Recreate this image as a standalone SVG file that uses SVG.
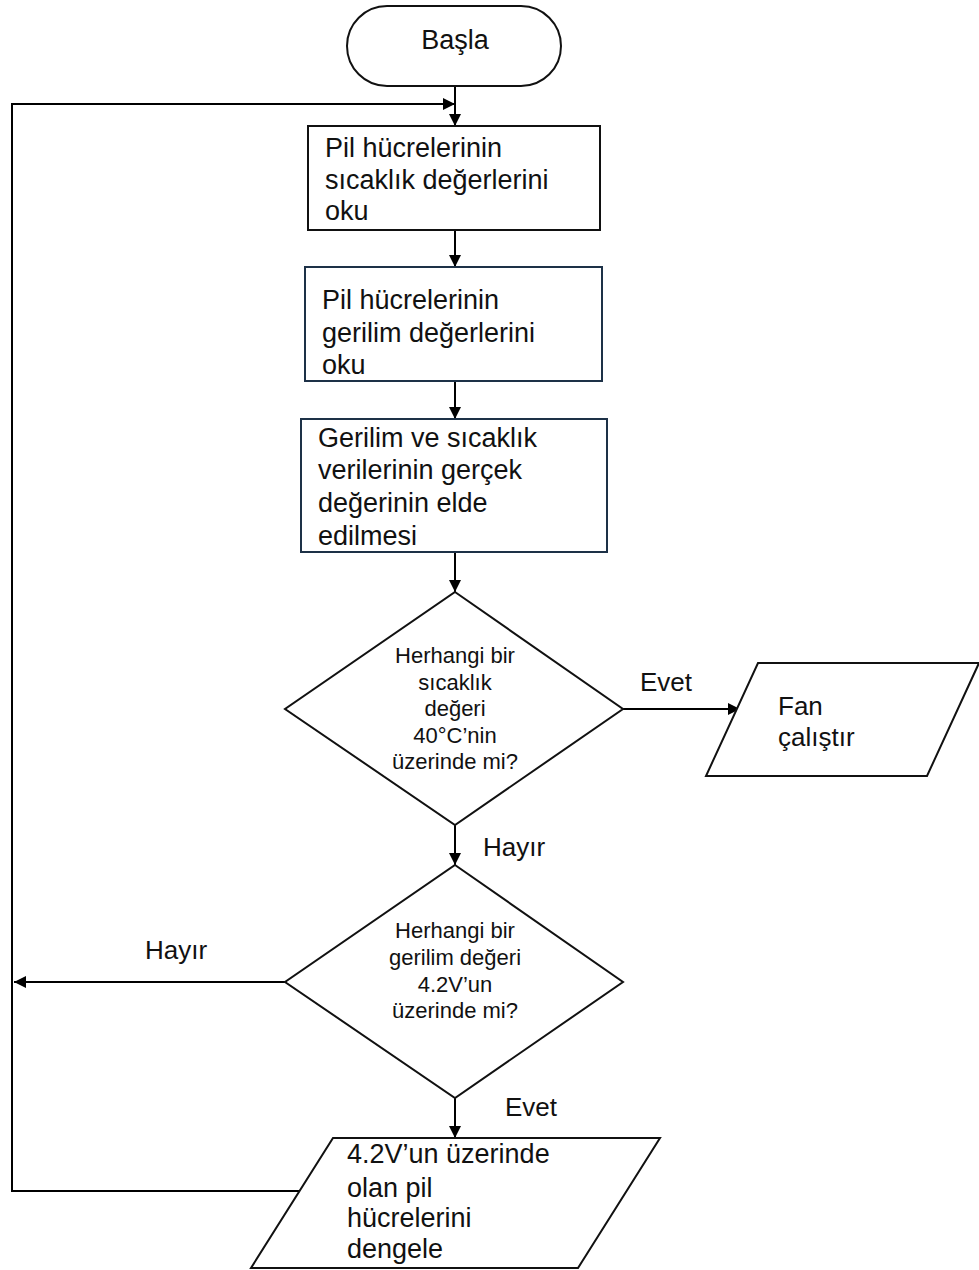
<svg xmlns="http://www.w3.org/2000/svg" width="979" height="1270" viewBox="0 0 979 1270">
  <style>
    .shape { fill: #ffffff; stroke: #111111; stroke-width: 2; }
    .box2 { fill: #ffffff; stroke: #1d3147; stroke-width: 2; }
    .line { fill: none; stroke: #000000; stroke-width: 2; }
    text { font-family: "Liberation Sans", Arial, sans-serif; fill: #111111; }
    .big { font-size: 27px; }
    .mid { font-size: 26px; }
    .small { font-size: 22px; text-anchor: middle; }
  </style>
  <defs>
    <marker id="arrow" markerUnits="userSpaceOnUse" markerWidth="12" markerHeight="12" viewBox="0 0 12 12" refX="12" refY="6" orient="auto">
      <path d="M0,0 L12,6 L0,12 Z" fill="#000000"/>
    </marker>
  </defs>

  <!-- connectors -->
  <g id="connectors">
    <line class="line" x1="455" y1="86" x2="455" y2="126" marker-end="url(#arrow)"/>
    <polyline class="line" points="299,1191 12,1191 12,104 455,104" marker-end="url(#arrow)"/>
    <line class="line" x1="455" y1="230" x2="455" y2="267" marker-end="url(#arrow)"/>
    <line class="line" x1="455" y1="381" x2="455" y2="419" marker-end="url(#arrow)"/>
    <line class="line" x1="455" y1="552" x2="455" y2="592" marker-end="url(#arrow)"/>
    <line class="line" x1="623" y1="709" x2="740" y2="709" marker-end="url(#arrow)"/>
    <line class="line" x1="455" y1="825" x2="455" y2="865" marker-end="url(#arrow)"/>
    <line class="line" x1="285" y1="982" x2="14" y2="982" marker-end="url(#arrow)"/>
    <line class="line" x1="455" y1="1098" x2="455" y2="1138" marker-end="url(#arrow)"/>
    <text class="mid" x="640" y="691">Evet</text>
    <text class="mid" x="483" y="856">Hayır</text>
    <text class="mid" x="145" y="959">Hayır</text>
    <text class="mid" x="505" y="1116">Evet</text>
  </g>

  <g id="start">
    <rect class="shape" x="347" y="6" width="214" height="80" rx="40" ry="40"/>
    <text class="big" x="455" y="49" text-anchor="middle">Başla</text>
  </g>

  <g id="read-temperature">
    <rect class="shape" x="308" y="126" width="292" height="104"/>
    <text class="big" x="325" y="157">Pil hücrelerinin</text>
    <text class="big" x="325" y="189">sıcaklık değerlerini</text>
    <text class="big" x="325" y="220">oku</text>
  </g>

  <g id="read-voltage">
    <rect class="box2" x="305" y="267" width="297" height="114"/>
    <text class="big" x="322" y="309">Pil hücrelerinin</text>
    <text class="big" x="322" y="342">gerilim değerlerini</text>
    <text class="big" x="322" y="374">oku</text>
  </g>

  <g id="convert-values">
    <rect class="box2" x="301" y="419" width="306" height="133"/>
    <text class="big" x="318" y="447">Gerilim ve sıcaklık</text>
    <text class="big" x="318" y="479">verilerinin gerçek</text>
    <text class="big" x="318" y="512">değerinin elde</text>
    <text class="big" x="318" y="545">edilmesi</text>
  </g>

  <g id="check-temperature">
    <polygon class="shape" points="455,592 623,709 455,825 285,709"/>
    <text class="small" x="455" y="663">Herhangi bir</text>
    <text class="small" x="455" y="689.5">sıcaklık</text>
    <text class="small" x="455" y="716">değeri</text>
    <text class="small" x="455" y="742.5">40°C’nin</text>
    <text class="small" x="455" y="769">üzerinde mi?</text>
  </g>

  <g id="run-fan">
    <polygon class="shape" points="758,663 979,663 927,776 706,776"/>
    <text class="mid" x="778" y="715">Fan</text>
    <text class="mid" x="778" y="746">çalıştır</text>
  </g>

  <g id="check-voltage">
    <polygon class="shape" points="455,865 623,982 455,1098 285,982"/>
    <text class="small" x="455" y="938">Herhangi bir</text>
    <text class="small" x="455" y="965">gerilim değeri</text>
    <text class="small" x="455" y="992">4.2V’un</text>
    <text class="small" x="455" y="1018">üzerinde mi?</text>
  </g>

  <g id="balance-cells">
    <polygon class="shape" points="333,1138 660,1138 578,1268 251,1268"/>
    <text class="big" x="347" y="1163">4.2V’un üzerinde</text>
    <text class="big" x="347" y="1197">olan pil</text>
    <text class="big" x="347" y="1227">hücrelerini</text>
    <text class="big" x="347" y="1258">dengele</text>
  </g>
</svg>
